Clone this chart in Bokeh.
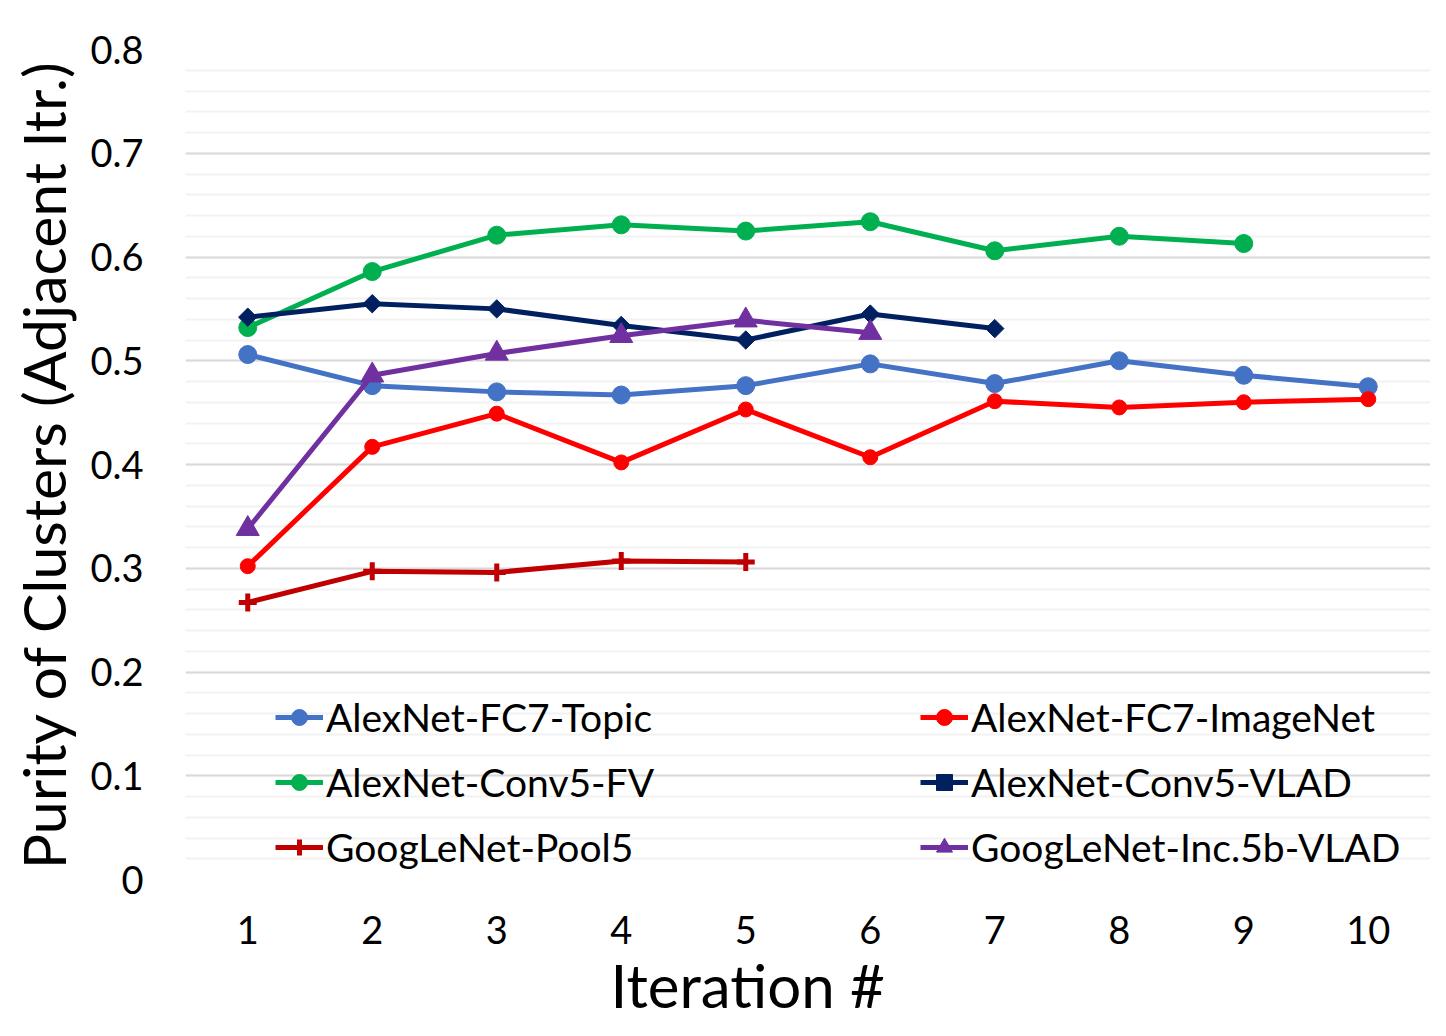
from bokeh.plotting import figure
from bokeh.models import FixedTicker, Legend, LegendItem, Title, Range1d
from bokeh.embed import file_html
from bokeh.resources import INLINE

iterations = [1, 2, 3, 4, 5, 6, 7, 8, 9, 10]
fc7_topic = [0.506, 0.476, 0.470, 0.467, 0.476, 0.497, 0.478, 0.500, 0.486, 0.475]
fc7_imagenet = [0.302, 0.417, 0.449, 0.402, 0.453, 0.407, 0.461, 0.455, 0.460, 0.463]
conv5_fv = [0.532, 0.586, 0.621, 0.631, 0.625, 0.634, 0.606, 0.620, 0.613]
conv5_vlad = [0.542, 0.555, 0.550, 0.534, 0.520, 0.545, 0.531]
pool5 = [0.267, 0.297, 0.296, 0.307, 0.306]
inc5b_vlad = [0.338, 0.486, 0.507, 0.524, 0.539, 0.527]

y_ticks = [0, 0.1, 0.2, 0.3, 0.4, 0.5, 0.6, 0.7, 0.8]
y_minor = [i * 0.02 for i in range(41)]

FONT = "Lato"

p = figure(width=1430, height=1020, output_backend="svg", toolbar_location=None,
           x_range=Range1d(0.5, 10.5), y_range=Range1d(0, 0.8),
           min_border_left=185, min_border_right=0, min_border_top=49, min_border_bottom=123)
p.outline_line_color = None
p.background_fill_color = "white"

p.xgrid.visible = False
p.yaxis.ticker = FixedTicker(ticks=y_ticks, minor_ticks=y_minor)
p.xaxis.ticker = FixedTicker(ticks=iterations)
p.ygrid.grid_line_color = "#d9d9d9"
p.ygrid.grid_line_width = 2
p.ygrid.minor_grid_line_color = "#f2f2f2"
p.ygrid.minor_grid_line_width = 2

for ax in (p.xaxis, p.yaxis):
    ax.axis_line_color = None
    ax.major_tick_line_color = None
    ax.minor_tick_line_color = None
    ax.major_label_text_font = FONT
    ax.major_label_text_font_size = "38px"
    ax.major_label_text_color = "black"

p.yaxis.major_label_overrides = {0: "0"}
p.yaxis.major_label_standoff = 36
p.xaxis.major_label_standoff = 30

p.yaxis.axis_label = "Purity of Clusters (Adjacent Itr.)"
p.yaxis.axis_label_text_font = FONT
p.yaxis.axis_label_text_font_size = "59px"
p.yaxis.axis_label_text_font_style = "normal"
p.yaxis.axis_label_text_color = "black"
p.yaxis.axis_label_standoff = 8

p.add_layout(Title(text="Iteration #", align="left", offset=425, text_font=FONT,
                   text_font_size="60px", text_font_style="normal", text_color="black",
                   text_line_height=0.7, standoff=0), "below")

series = [
    ("AlexNet-FC7-Topic", fc7_topic, "#4472C4", "circle", 18, 1),
    ("AlexNet-FC7-ImageNet", fc7_imagenet, "#FF0000", "circle", 15, 1),
    ("AlexNet-Conv5-FV", conv5_fv, "#00B050", "circle", 18, 1),
    ("AlexNet-Conv5-VLAD", conv5_vlad, "#002060", "square", 13, 1),
    ("GoogLeNet-Pool5", pool5, "#C00000", "cross", 18, 5),
    ("GoogLeNet-Inc.5b-VLAD", inc5b_vlad, "#7030A0", "triangle", 23, 1),
]

items = []
for name, vals, color, marker, size, mlw in series:
    xs = iterations[:len(vals)]
    lr = p.line(xs, vals, line_color=color, line_width=5, line_join="round")
    kw = {}
    if marker == "square":
        kw["angle"] = 0.785398
    sr = p.scatter(xs, vals, marker=marker, size=size, fill_color=color,
                   line_color=color, line_width=mlw, **kw)
    items.append(LegendItem(label=name, renderers=[lr, sr]))

def make_legend(its, loc):
    lg = Legend(items=its, location=loc, orientation="vertical",
                label_text_font=FONT, label_text_font_size="39px", label_text_color="black",
                glyph_width=48, glyph_height=40, label_height=40, spacing=19,
                label_standoff=3, padding=0, margin=0,
                border_line_color=None, background_fill_alpha=0)
    return lg

p.add_layout(make_legend([items[0], items[2], items[4]], (90, 9)))
p.add_layout(make_legend([items[1], items[3], items[5]], (735, 9)))

open("out.html", "w").write(file_html(p, INLINE))
